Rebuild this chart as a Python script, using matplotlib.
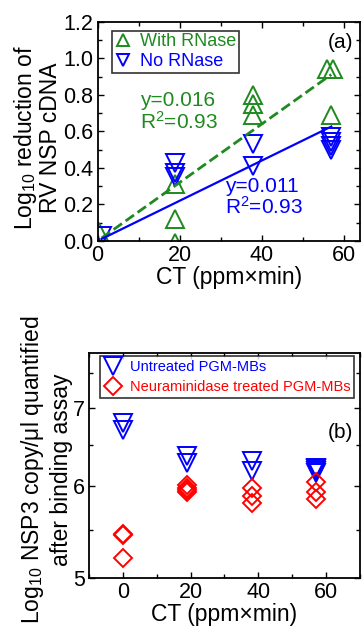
import numpy as np
import matplotlib
matplotlib.use("Agg")
import matplotlib.pyplot as plt
from matplotlib.ticker import NullFormatter, FixedLocator

plt.rcParams['font.family'] = ['Liberation Sans', 'DejaVu Sans']
plt.rcParams['mathtext.fontset'] = 'custom'
plt.rcParams['mathtext.rm'] = 'Liberation Sans'
plt.rcParams['mathtext.default'] = 'regular'

green = '#1f8a1f'
blue = '#0000ff'
red = '#ff0000'

# panel (a): log10 reduction vs CT
ct_with = [0.3, 19, 19, 19, 38, 38, 38, 56, 57.5, 57]
red_with = [0.05, 0.31, 0.12, -0.01, 0.80, 0.75, 0.69, 0.94, 0.94, 0.69]
ct_no = [1, 19, 19, 19, 38, 38, 57, 57, 57, 57]
red_no = [0.03, 0.43, 0.37, 0.35, 0.53, 0.41, 0.57, 0.54, 0.52, 0.50]
slopes = [0.016, 0.011]
r2 = [0.93, 0.93]
fit_range = [1, 57]

# panel (b): NSP3 copies after binding assay
ct_b_untreated = [0, 0, 19, 19, 38, 38, 57, 57, 57, 57]
untreated = [6.80, 6.70, 6.36, 6.28, 6.30, 6.18, 6.22, 6.20, 6.18, 6.16]
ct_b_neur = [0, 0, 0, 19, 19, 19, 19, 38, 38, 38, 57, 57, 57]
neur = [5.45, 5.44, 5.20, 6.01, 5.98, 5.95, 5.93, 5.97, 5.88, 5.80, 6.05, 5.93, 5.84]

fig = plt.figure(figsize=(3.63, 6.30), dpi=100)

def style(ax):
    ax.tick_params(which='both', direction='in', top=True, right=True, labelsize=15.5, pad=3)
    ax.tick_params(which='major', length=4.5, width=1)
    ax.tick_params(which='minor', length=3, width=1)
    for s in ax.spines.values():
        s.set_linewidth(1.3)

# ---- (a)
ax1 = fig.add_axes([0.2686, 0.6175, 0.7231, 0.3476])
ax1.plot(ct_with, red_with, '^', ms=13, mfc='none', mec=green, mew=1.4, label='With RNase')
ax1.plot(ct_no, red_no, 'v', ms=13, mfc='none', mec=blue, mew=1.4, label='No RNase')
xf = np.array(fit_range)
ax1.plot(xf, slopes[0] * xf, '--', color=green, lw=2)
ax1.plot(xf, slopes[1] * xf, '-', color=blue, lw=1.6)
ax1.text(10.3, 0.77, 'y=%.3f' % slopes[0], color=green, fontsize=15, va='center')
ax1.text(10.3, 0.655, 'R$^2$=%.2f' % r2[0], color=green, fontsize=15, va='center')
ax1.text(31.0, 0.30, 'y=%.3f' % slopes[1], color=blue, fontsize=15, va='center')
ax1.text(31.0, 0.185, 'R$^2$=%.2f' % r2[1], color=blue, fontsize=15, va='center')
ax1.text(0.975, 0.905, '(a)', transform=ax1.transAxes, ha='right', va='center', fontsize=15)
ax1.set_xlim(0, 64)
ax1.set_ylim(0, 1.2)
ax1.set_xticks([0, 20, 40, 60])
ax1.set_xticks([10, 30, 50], minor=True)
ax1.set_yticks(np.arange(0, 1.21, 0.2))
ax1.set_yticks(np.arange(0.1, 1.2, 0.2), minor=True)
ax1.set_yticklabels(['%.1f' % v for v in np.arange(0, 1.21, 0.2)])
ax1.set_xlabel('CT (ppm×min)', fontsize=16.5, labelpad=0)
ax1.set_ylabel('Log$_{10}$ reduction of\nRV NSP cDNA', fontsize=16.5, labelpad=1, linespacing=1.0)
ax1.yaxis.label.set_y(0.47)
style(ax1)
leg = ax1.legend(loc='upper left', bbox_to_anchor=(0.055, 0.96), fontsize=13, frameon=True,
                 fancybox=False, edgecolor='black', handlelength=0.9, handletextpad=0.5,
                 borderpad=0.15, labelspacing=0.15, borderaxespad=0, markerscale=0.65)
leg.get_frame().set_linewidth(1.2)
for t, c in zip(leg.get_texts(), [green, blue]):
    t.set_color(c)

# ---- (b)
ax2 = fig.add_axes([0.245, 0.0825, 0.7466, 0.357])
ax2.plot(ct_b_untreated, untreated, 'v', ms=13, mfc='none', mec=blue, mew=1.4, label='Untreated PGM-MBs')
ax2.plot(ct_b_neur, neur, 'D', ms=9.5, mfc='none', mec=red, mew=1.4, label='Neuraminidase treated PGM-MBs')
ax2.text(0.975, 0.645, '(b)', transform=ax2.transAxes, ha='right', va='center', fontsize=15)
ax2.set_yscale('log')
ax2.set_xlim(-10, 70)
ax2.set_ylim(5, 7.8)
ax2.set_xticks([0, 20, 40, 60])
ax2.set_xticks([-10, 10, 30, 50, 70], minor=True)
ax2.yaxis.set_major_locator(FixedLocator([5, 6, 7]))
ax2.yaxis.set_minor_locator(FixedLocator([5.5, 6.5, 7.5]))
ax2.set_yticklabels(['5', '6', '7'])
ax2.yaxis.set_minor_formatter(NullFormatter())
ax2.set_xlabel('CT (ppm×min)', fontsize=16.5, labelpad=0)
ax2.set_ylabel('Log$_{10}$ NSP3 copy/μl quantified\nafter binding assay', fontsize=16.5,
               labelpad=0, linespacing=1.2)
ax2.yaxis.label.set_y(0.48)
style(ax2)
leg2 = ax2.legend(loc='upper left', bbox_to_anchor=(0.04, 0.985), fontsize=10.5, frameon=True,
                  fancybox=False, edgecolor='black', handlelength=1.3, handletextpad=0.5,
                  borderpad=0.25, labelspacing=0.4, borderaxespad=0)
leg2.get_frame().set_linewidth(1.2)
for t, c in zip(leg2.get_texts(), [blue, red]):
    t.set_color(c)

fig.savefig('out.png', dpi=100)
